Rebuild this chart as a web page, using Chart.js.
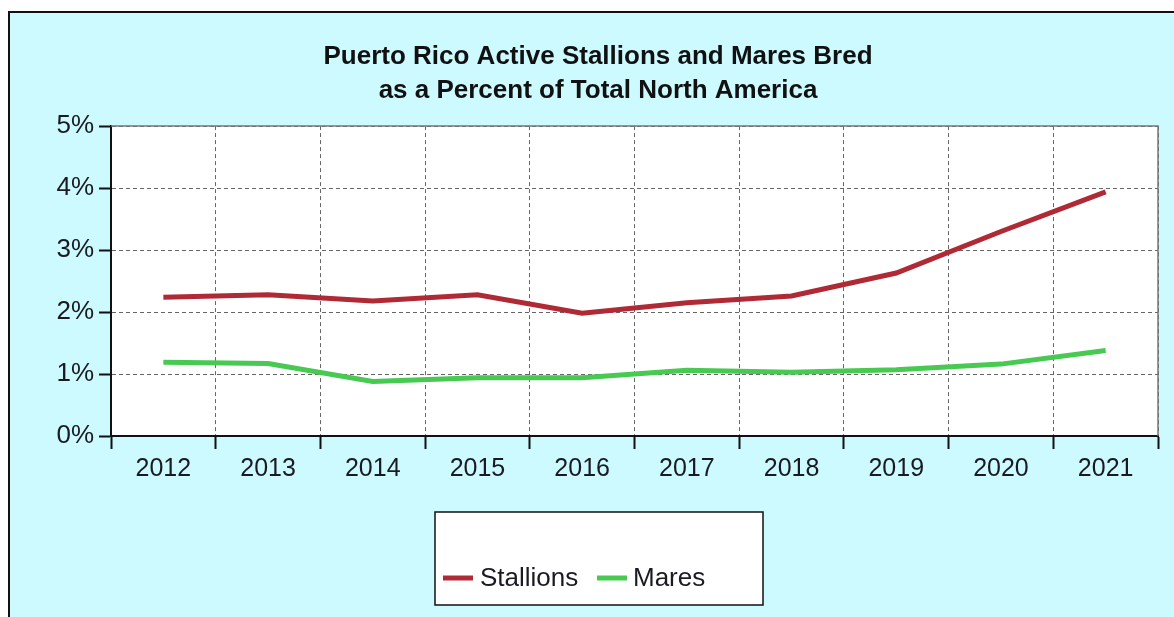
<!DOCTYPE html>
<html>
<head>
<meta charset="utf-8">
<script src="https://cdn.jsdelivr.net/npm/chart.js@4"></script>
<style>
html,body{margin:0;padding:0;background:#fff;}
#wrap{width:1174px;height:617px;position:relative;}
</style>
</head>
<body>
<div id="wrap"><canvas id="c" width="1174" height="617"></canvas></div>
<script>
const years=['2012','2013','2014','2015','2016','2017','2018','2019','2020','2021'];
const stallions=[2.24,2.28,2.18,2.28,1.98,2.15,2.26,2.63,3.30,3.94];
const mares=[1.19,1.17,0.88,0.94,0.94,1.06,1.03,1.07,1.16,1.38];
const yTicks=[0,1,2,3,4,5];
const titleLines=['Puerto Rico Active Stallions and Mares Bred','as a Percent of Total North America'];

const FONT="'Liberation Sans', Arial, sans-serif";

// background, outer frame and white plot area
const bgPlugin={id:'bg',beforeDraw(chart){
    const c=chart.ctx,a=chart.chartArea;
    c.save();
    c.fillStyle='#fff';c.fillRect(0,0,chart.width,chart.height);
    c.fillStyle='#ccfaff';c.fillRect(9,12,chart.width,chart.height);
    c.strokeStyle='#111';c.lineWidth=2;
    c.beginPath();c.moveTo(9,chart.height+5);c.lineTo(9,12);c.lineTo(chart.width+5,12);c.stroke();
    c.fillStyle='#fff';c.fillRect(a.left,a.top,a.right-a.left,a.bottom-a.top);
    c.restore();
},afterDraw(chart){
    const c=chart.ctx,a=chart.chartArea;
    c.save();
    c.strokeStyle='#777';c.lineWidth=1.5;
    c.beginPath();c.moveTo(a.left,a.top);c.lineTo(a.right,a.top);c.lineTo(a.right,a.bottom);c.stroke();
    // legend box
    c.fillStyle='#fff';c.fillRect(435,512,328,93);
    c.strokeStyle='#111';c.lineWidth=1.5;c.strokeRect(435,512,328,93);
    const ds=chart.data.datasets;
    const items=[{x:443,tx:480},{x:597,tx:633}];
    c.font='26px '+FONT;c.textBaseline='middle';c.fillStyle='#1a1a22';
    ds.forEach((d,i)=>{
        c.strokeStyle=d.borderColor;c.lineWidth=5;
        c.beginPath();c.moveTo(items[i].x,578);c.lineTo(items[i].x+30,578);c.stroke();
        c.fillText(d.label,items[i].tx,579);
    });
    c.restore();
}};

new Chart(document.getElementById('c'),{
    type:'line',
    data:{labels:years,datasets:[
        {label:'Stallions',data:stallions,borderColor:'#b02a36',borderWidth:5,pointRadius:0,tension:0,fill:false},
        {label:'Mares',data:mares,borderColor:'#48c952',borderWidth:5,pointRadius:0,tension:0,fill:false}
    ]},
    options:{
        responsive:false,animation:false,
        layout:{padding:{left:38,right:16,top:40,bottom:141}},
        plugins:{
            legend:{display:false},tooltip:{enabled:false},
            title:{display:true,text:titleLines,color:'#111',font:{family:FONT,size:26,weight:'bold',lineHeight:1.31},padding:{top:0,bottom:18}}
        },
        scales:{
            x:{
                offset:true,
                grid:{offset:true,color:'#666',lineWidth:1,tickLength:13,tickColor:'#111',tickWidth:2,tickBorderDash:[]},
                border:{color:'#111',width:2,dash:[4,3]},
                ticks:{color:'#1a1a22',font:{family:FONT,size:25},padding:5},
                afterFit(s){s.height=40;}
            },
            y:{
                min:0,max:5,
                afterBuildTicks(s){s.ticks=yTicks.map(v=>({value:v}));},
                grid:{color:'#666',lineWidth:1,tickLength:12,tickColor:'#111',tickWidth:2,tickBorderDash:[]},
                border:{color:'#111',width:2,dash:[4,3]},
                ticks:{color:'#1a1a22',font:{family:FONT,size:26},padding:5,callback:v=>v+'%'},
                afterFit(s){s.width=73;}
            }
        }
    },
    plugins:[bgPlugin]
});
</script>
</body>
</html>
